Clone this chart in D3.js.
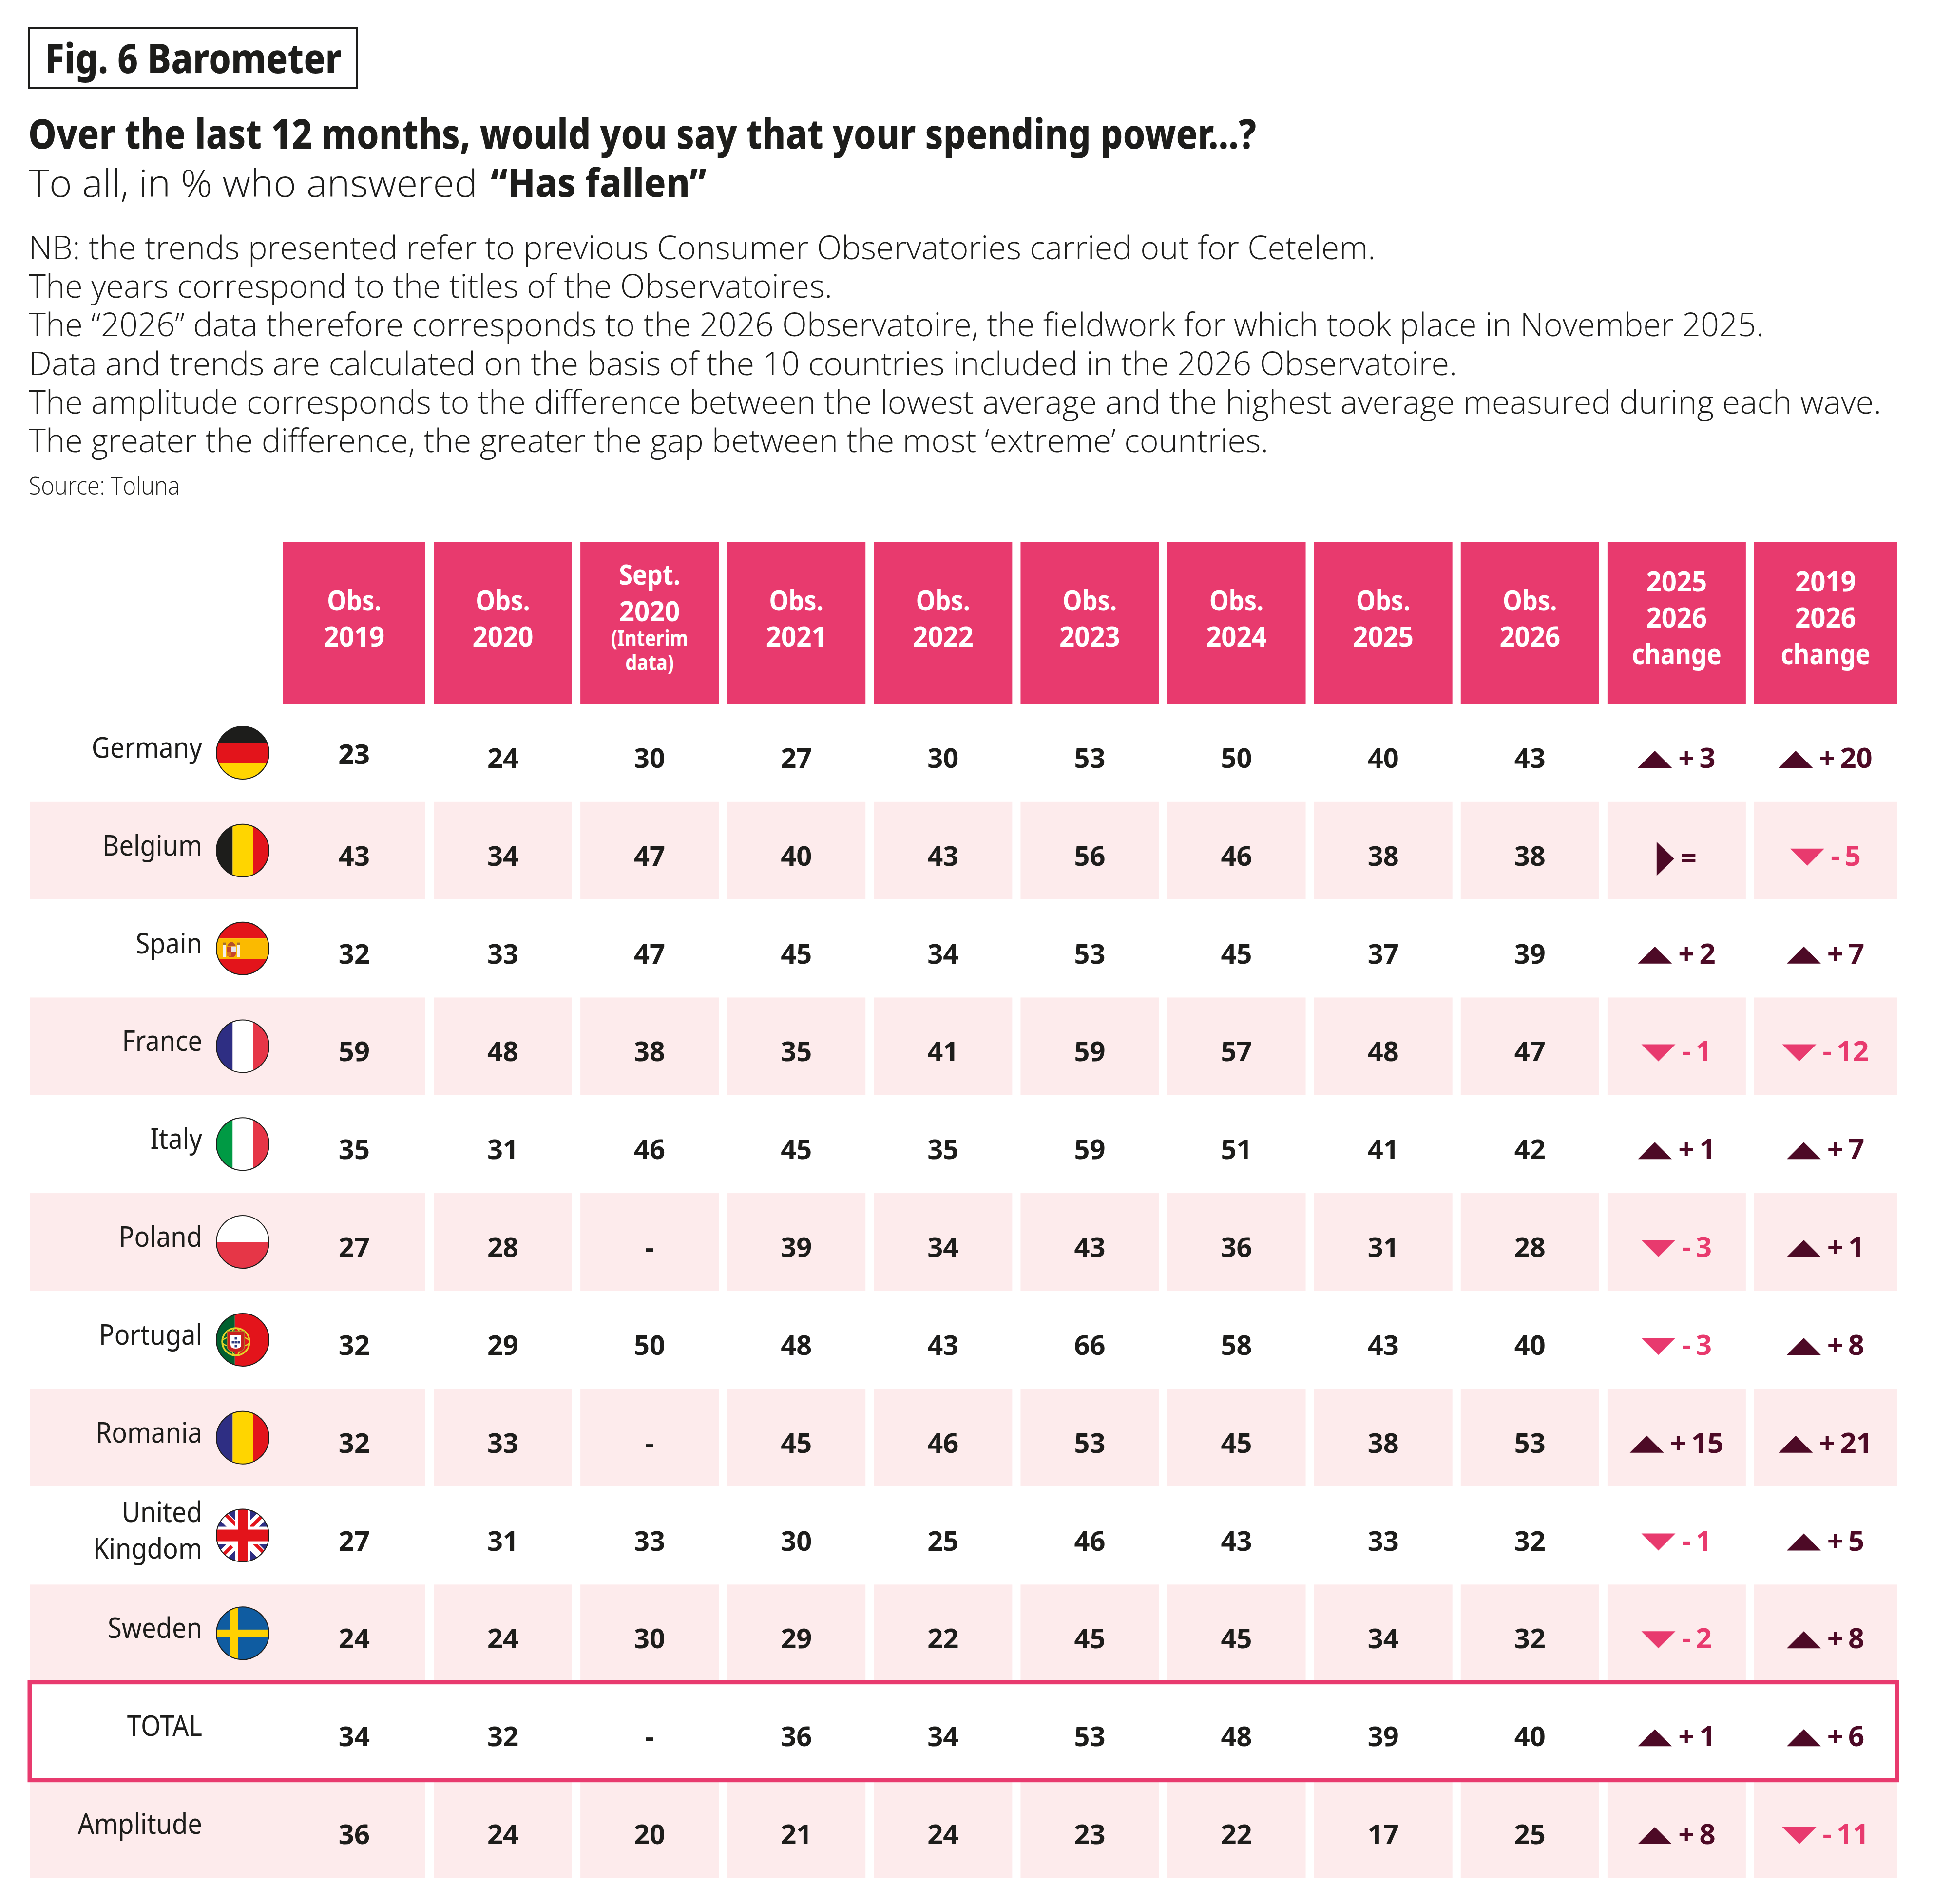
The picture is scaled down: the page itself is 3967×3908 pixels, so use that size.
<!DOCTYPE html>
<html lang="en">

<head>
  <meta charset="UTF-8">
  <title>Fig. 6 Barometer</title>
  <script src="https://d3js.org/d3.v7.min.js"></script>
  <style>
    body { margin: 0; background: #fff; }
    text { font-family: "Noto Sans", sans-serif; fill: #1d1d1b; }
    .light { font-family: "Open Sans", sans-serif; font-weight: 300; }
  </style>
</head>

<body>
  <div id="chart"></div>

  <script>
    // Values
    const countries = ["Germany", "Belgium", "Spain", "France", "Italy", "Poland", "Portugal", "Romania", "United Kingdom", "Sweden", "TOTAL", "Amplitude"];
    const columnHeads = [
      ["Obs.", "2019"], ["Obs.", "2020"], ["Sept.", "2020", "(Interim", "data)"], ["Obs.", "2021"], ["Obs.", "2022"],
      ["Obs.", "2023"], ["Obs.", "2024"], ["Obs.", "2025"], ["Obs.", "2026"], ["2025", "2026", "change"], ["2019", "2026", "change"]
    ];
    const obs2019 = [23, 43, 32, 59, 35, 27, 32, 32, 27, 24, 34, 36];
    const obs2020 = [24, 34, 33, 48, 31, 28, 29, 33, 31, 24, 32, 24];
    const sept2020 = [30, 47, 47, 38, 46, null, 50, null, 33, 30, null, 20];
    const obs2021 = [27, 40, 45, 35, 45, 39, 48, 45, 30, 29, 36, 21];
    const obs2022 = [30, 43, 34, 41, 35, 34, 43, 46, 25, 22, 34, 24];
    const obs2023 = [53, 56, 53, 59, 59, 43, 66, 53, 46, 45, 53, 23];
    const obs2024 = [50, 46, 45, 57, 51, 36, 58, 45, 43, 45, 48, 22];
    const obs2025 = [40, 38, 37, 48, 41, 31, 43, 38, 33, 34, 39, 17];
    const obs2026 = [43, 38, 39, 47, 42, 28, 40, 53, 32, 32, 40, 25];
    const change2025 = [3, 0, 2, -1, 1, -3, -3, 15, -1, -2, 1, 8];
    const change2019 = [20, -5, 7, -12, 7, 1, 8, 21, 5, 8, 6, -11];
    const obsColumns = [obs2019, obs2020, sept2020, obs2021, obs2022, obs2023, obs2024, obs2025, obs2026];
    const changeColumns = [change2025, change2019];

    const noteLines = [
      "NB: the trends presented refer to previous Consumer Observatories carried out for Cetelem.",
      "The years correspond to the titles of the Observatoires.",
      "The “2026” data therefore corresponds to the 2026 Observatoire, the fieldwork for which took place in November 2025.",
      "Data and trends are calculated on the basis of the 10 countries included in the 2026 Observatoire.",
      "The amplitude corresponds to the difference between the lowest average and the highest average measured during each wave.",
      "The greater the difference, the greater the gap between the most ‘extreme’ countries."
    ];
    const noteWidths = [2764, 1649, 3561, 2931, 3802, 2544];

    const pink = "#e83a6e", band = "#fdebec", dark = "#4d0a26", ink = "#1d1d1b";

    const svg = d3.select("#chart").append("svg")
      .attr("width", 3967)
      .attr("height", 3908)
      .style("display", "block");

    // Scales: left edge of each column, centre of each row
    const colLeft = d3.scaleLinear().domain([1, 10]).range([890, 3600]);
    const rowY = d3.scalePoint().domain(countries).range([1545, 3754]);
    const colWidth = 284;

    function colEdges(i) {
      const left = colLeft(i);
      if (i === 0) return [left - 8, left + colWidth];
      if (i === 10) return [left, left + colWidth + 9];
      return [left, left + colWidth];
    }
    const colCentre = i => d3.mean(colEdges(i));

    // Squeeze a text by a factor or to a width, the source font is condensed
    function squeeze(sel, k) {
      sel.attr("lengthAdjust", "spacingAndGlyphs")
        .each(function () { this.setAttribute("textLength", this.getComputedTextLength() * k); });
    }
    function fitted(x, y, str, size, weight, width, cls) {
      return svg.append("text")
        .attr("class", cls || null)
        .attr("x", x)
        .attr("y", y)
        .attr("font-size", size)
        .attr("font-weight", weight)
        .attr("textLength", width)
        .attr("lengthAdjust", "spacingAndGlyphs")
        .text(str);
    }

    // Title block
    svg.append("rect")
      .attr("x", 60).attr("y", 58)
      .attr("width", 672).attr("height", 122)
      .attr("fill", "none").attr("stroke", ink).attr("stroke-width", 4);
    fitted(92, 150, "Fig. 6 Barometer", 84, 800, 609);
    fitted(58, 305, "Over the last 12 months, would you say that your spending power...?", 84, 800, 2520);
    fitted(59, 404, "To all, in % who answered", 78, 300, 921, "light");
    fitted(1007, 404, "“Has fallen”", 80, 800, 443);

    noteLines.forEach((line, i) => {
      fitted(59, 532 + i * 79.2, line, 66, 300, noteWidths[i], "light");
    });
    fitted(59, 1015, "Source: Toluna", 50, 300, 310, "light");

    // Pale bands on every other row
    countries.forEach((c, r) => {
      if (r % 2 === 0 || c === "TOTAL") return;
      columnHeads.forEach((h, i) => {
        const [x0, x1] = colEdges(i);
        const left = i === 0 ? 61 : x0;
        svg.append("rect")
          .attr("x", left).attr("y", rowY(c) - 100)
          .attr("width", x1 - left).attr("height", 200)
          .attr("fill", band);
      });
    });

    // Column heads
    columnHeads.forEach((lines, i) => {
      const [x0, x1] = colEdges(i);
      svg.append("rect")
        .attr("x", x0).attr("y", 1113)
        .attr("width", x1 - x0).attr("height", 332)
        .attr("fill", pink);
      lines.forEach((line, k) => {
        let y = (lines.length === 3 ? 1288 : 1290) - (lines.length - 1) * 37.25 + k * 74.5;
        let size = 58;
        if (lines.length === 4) {
          y = [1200, 1275, 1326, 1376][k];
          size = k < 2 ? 58 : 44;
        }
        svg.append("text")
          .attr("x", colCentre(i)).attr("y", y)
          .attr("text-anchor", "middle")
          .attr("font-size", size).attr("font-weight", 700)
          .style("fill", "#fff")
          .text(line)
          .call(squeeze, /\d/.test(line) ? 0.94 : 0.87);
      });
    });

    // Box round the TOTAL row
    svg.append("rect")
      .attr("x", 61).attr("y", rowY("TOTAL") - 100.5)
      .attr("width", 3832).attr("height", 201)
      .attr("fill", "#fff").attr("stroke", pink).attr("stroke-width", 9);

    // Country names
    countries.forEach(c => {
      const y = rowY(c);
      const lines = c === "United Kingdom" ? ["United", "Kingdom"] : [c];
      lines.forEach((line, k) => {
        svg.append("text")
          .attr("x", 415)
          .attr("y", lines.length > 1 ? y - 28 + k * 75 : y + 10)
          .attr("text-anchor", "end")
          .attr("font-size", 59)
          .text(line)
          .call(squeeze, 0.89);
      });
    });

    // Observed values
    obsColumns.forEach((col, i) => {
      col.forEach((v, r) => {
        const isFirst = i === 0 && r === 0;
        svg.append("text")
          .attr("x", colCentre(i))
          .attr("y", rowY(countries[r]) + (isFirst ? 23 : 31))
          .attr("text-anchor", "middle")
          .attr("font-size", 56)
          .attr("font-weight", isFirst ? 800 : 700)
          .text(v === null ? "-" : v);
      });
    });

    // Change columns: a triangle and the signed value, centred together
    changeColumns.forEach((col, c) => {
      const i = c + 9;
      col.forEach((v, r) => {
        const y = rowY(countries[r]);
        const base = y + 31;
        const color = v < 0 ? pink : dark;
        const g = svg.append("g");
        const label = g.append("text")
          .attr("font-size", 58).attr("font-weight", 700)
          .attr("y", v === 0 ? y + 36 : base)
          .style("fill", color);
        if (v === 0) {
          label.text("=");
        } else {
          label.append("tspan").text(v > 0 ? "+" : "-");
          label.append("tspan").attr("dx", 10).text(Math.abs(v));
        }
        const textW = label.node().getBBox().width;
        const triW = v === 0 ? 36 : 70;
        const gap = 13;
        const x = colCentre(i) - (triW + gap + textW) / 2;
        label.attr("x", x + triW + gap);
        let pts;
        if (v > 0) pts = [[x, base], [x + 70, base], [x + 35, base - 35]];
        else if (v < 0) pts = [[x, base - 35], [x + 70, base - 35], [x + 35, base]];
        else pts = [[x, y - 18], [x, y + 52], [x + 36, y + 17]];
        g.append("path")
          .attr("d", d3.line()(pts) + "Z")
          .attr("fill", color);
      });
    });

    // Flags
    const flagX = 498, flagR = 54;
    const defs = svg.append("defs");
    defs.append("clipPath").attr("id", "flag-clip")
      .append("circle").attr("r", flagR);

    function stripes(g, dir, colors, stops) {
      const pos = d3.scaleLinear().domain([0, 1]).range([-flagR, flagR]);
      colors.forEach((col, i) => {
        const a = pos(stops[i]), b = pos(stops[i + 1]);
        const r = g.append("rect").attr("fill", col);
        if (dir === "h") r.attr("x", -flagR).attr("width", 2 * flagR).attr("y", a).attr("height", b - a);
        else r.attr("y", -flagR).attr("height", 2 * flagR).attr("x", a).attr("width", b - a);
      });
    }
    const thirds = [0, 0.31, 0.7, 1];

    function spainCrest(g) {
      g.append("rect").attr("x", -40).attr("y", -8).attr("width", 5).attr("height", 26).attr("fill", "#f4f0e8");
      g.append("rect").attr("x", -11).attr("y", -8).attr("width", 5).attr("height", 26).attr("fill", "#f4f0e8");
      g.append("rect").attr("x", -41).attr("y", -12).attr("width", 7).attr("height", 5).attr("fill", "#a5702a");
      g.append("rect").attr("x", -12).attr("y", -12).attr("width", 7).attr("height", 5).attr("fill", "#a5702a");
      g.append("path").attr("d", "M-32,-4H-14V10Q-14,18 -23,18Q-32,18 -32,10Z").attr("fill", "#c8452b");
      g.append("rect").attr("x", -23).attr("y", -4).attr("width", 9).attr("height", 11).attr("fill", "#e7e3ea");
      g.append("rect").attr("x", -32).attr("y", 7).attr("width", 9).attr("height", 9).attr("fill", "#d9751e");
      g.append("path").attr("d", "M-32,-5Q-23,-22 -14,-5Z").attr("fill", "#b5512a");
    }
    function portugalArms(g) {
      const a = g.append("g").attr("transform", "translate(-14,4)");
      a.append("circle").attr("r", 28).attr("fill", "none").attr("stroke", "#e2d52a").attr("stroke-width", 3.5);
      a.append("ellipse").attr("rx", 28).attr("ry", 11).attr("fill", "none").attr("stroke", "#e2d52a").attr("stroke-width", 2.5);
      a.append("ellipse").attr("rx", 11).attr("ry", 28).attr("fill", "none").attr("stroke", "#e2d52a").attr("stroke-width", 2.5);
      a.append("path").attr("d", "M-18,-21H18V8Q18,21 0,21Q-18,21 -18,8Z").attr("fill", "#c8201f").attr("stroke", "#a58a2c").attr("stroke-width", 1.5);
      a.append("path").attr("d", "M-11,-13H11V6Q11,14 0,14Q-11,14 -11,6Z").attr("fill", "#fff");
      [[0, -7], [-6, 1], [0, 1], [6, 1], [0, 9]].forEach(p => {
        a.append("rect").attr("x", p[0] - 2.5).attr("y", p[1] - 2.5).attr("width", 5).attr("height", 5).attr("fill", "#2e3a7d");
      });
    }
    function unionJack(g) {
      g.append("rect").attr("x", -flagR).attr("y", -flagR).attr("width", 2 * flagR).attr("height", 2 * flagR).attr("fill", "#2e2e83");
      [[-1, -1], [1, -1], [-1, 1], [1, 1]].forEach(([sx, sy]) => {
        g.append("line").attr("x1", 0).attr("y1", 0).attr("x2", sx * flagR).attr("y2", sy * flagR)
          .attr("stroke", "#fff").attr("stroke-width", 22);
      });
      [[-1, -1, 1], [1, -1, -1], [-1, 1, -1], [1, 1, 1]].forEach(([sx, sy, side]) => {
        g.append("line")
          .attr("x1", sx * 18 + side * 4).attr("y1", sy * 18 - side * 4)
          .attr("x2", sx * flagR + side * 4).attr("y2", sy * flagR - side * 4)
          .attr("stroke", "#e3141b").attr("stroke-width", 7);
      });
      g.append("rect").attr("x", -16).attr("y", -flagR).attr("width", 32).attr("height", 2 * flagR).attr("fill", "#fff");
      g.append("rect").attr("x", -flagR).attr("y", -18).attr("width", 2 * flagR).attr("height", 36).attr("fill", "#fff");
      g.append("rect").attr("x", -10).attr("y", -flagR).attr("width", 20).attr("height", 2 * flagR).attr("fill", "#e3141b");
      g.append("rect").attr("x", -flagR).attr("y", -12).attr("width", 2 * flagR).attr("height", 24).attr("fill", "#e3141b");
    }

    const flagDrawers = {
      "Germany": g => stripes(g, "h", [ink, "#e3141b", "#ffd500"], thirds),
      "Belgium": g => stripes(g, "v", [ink, "#ffd500", "#e3141b"], thirds),
      "Spain": g => { stripes(g, "h", ["#e3141b", "#fbba00", "#e3141b"], thirds); spainCrest(g); },
      "France": g => stripes(g, "v", ["#2e2e83", "#fff", "#e63647"], thirds),
      "Italy": g => stripes(g, "v", ["#009a44", "#fff", "#e63647"], thirds),
      "Poland": g => stripes(g, "h", ["#fff", "#e63647"], [0, 0.5, 1]),
      "Portugal": g => { stripes(g, "v", ["#00602f", "#e3141b"], [0, 0.35, 1]); portugalArms(g); },
      "Romania": g => stripes(g, "v", ["#2e2e83", "#ffd500", "#e3141b"], thirds),
      "United Kingdom": unionJack,
      "Sweden": g => {
        stripes(g, "h", ["#0f5ca1"], [0, 1]);
        stripes(g, "v", ["#ffd100"], [0.26, 0.41]);
        stripes(g, "h", ["#ffd100"], [0.43, 0.58]);
      }
    };

    Object.keys(flagDrawers).forEach(c => {
      const g = svg.append("g").attr("transform", `translate(${flagX},${rowY(c)})`);
      flagDrawers[c](g.append("g").attr("clip-path", "url(#flag-clip)"));
      g.append("circle").attr("r", flagR).attr("fill", "none").attr("stroke", ink).attr("stroke-width", 2);
    });
  </script>
</body>

</html>
